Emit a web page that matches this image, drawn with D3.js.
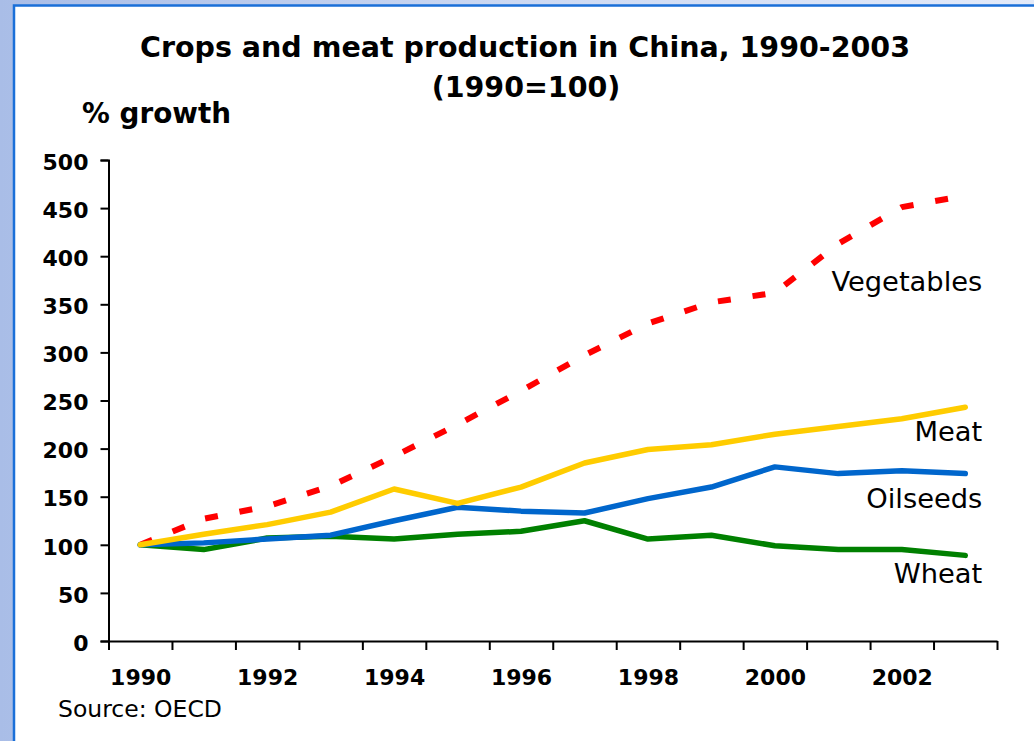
<!DOCTYPE html>
<html>
<head>
<meta charset="utf-8">
<script src="https://cdn.jsdelivr.net/npm/d3@7/dist/d3.min.js"></script>
<style>
  html, body { margin: 0; padding: 0; background: #fff; }
  svg { display: block; }
  text { fill: #000; }
</style>
</head>
<body>
<svg id="chart" width="1034" height="741"></svg>
<script>
// Production indices, 1990 = 100
const years      = [1990, 1991, 1992, 1993, 1994, 1995, 1996, 1997, 1998, 1999, 2000, 2001, 2002, 2003];
const vegetables = [100, 127, 140, 161, 192, 225, 260, 297, 330, 352, 362, 413, 451, 463];
const meat       = [100, 111, 121, 134, 158, 143, 160, 185, 199, 204, 215, 223, 231, 243];
const oilseeds   = [100, 102, 106, 110, 125, 139, 135, 133, 148, 160, 181, 174, 177, 174];
const wheat      = [100,  95, 107, 109, 106, 111, 114, 125, 106, 110,  99,  95,  95,  89];

const yTicks = [0, 50, 100, 150, 200, 250, 300, 350, 400, 450, 500];
const yearLabels = [1990, 1992, 1994, 1996, 1998, 2000, 2002];

const titleLines = ["Crops and meat production in China, 1990-2003", "(1990=100)"];
const yTitle = "% growth";
const sourceNote = "Source: OECD";

// series drawn back to front
const series = [
  { name: "Vegetables", values: vegetables, color: "#ff0000", dash: "13,22", labelDy: 95 },
  { name: "Wheat",      values: wheat,      color: "#008000", dash: null,    labelDy: 28 },
  { name: "Oilseeds",   values: oilseeds,   color: "#0066cc", dash: null,    labelDy: 34 },
  { name: "Meat",       values: meat,       color: "#ffcc00", dash: null,    labelDy: 34 }
];

const W = 1034, H = 741;
const svg = d3.select("#chart");

// frame: light blue surround with a white panel
const defs = svg.append("defs");
const grad = defs.append("linearGradient").attr("id", "surround")
  .attr("x1", "0").attr("y1", "0").attr("x2", "1").attr("y2", "0");
grad.append("stop").attr("offset", "0").attr("stop-color", "#a9bde7");
grad.append("stop").attr("offset", "0.5").attr("stop-color", "#cdd9f2");
grad.append("stop").attr("offset", "1").attr("stop-color", "#e3eaf9");
svg.append("rect").attr("width", W).attr("height", H).attr("fill", "url(#surround)");
svg.append("rect").attr("x", 14).attr("y", 6).attr("width", W - 14).attr("height", H - 6).attr("fill", "#fff");
svg.append("path").attr("d", `M14,${H} V5.5 H${W}`)
  .attr("fill", "none").attr("stroke", "#1a6fd8").attr("stroke-width", 2.5);

// scales
const x = d3.scaleLinear().domain([years[0] - 0.5, years[years.length - 1] + 0.5]).range([108.5, 997]);
const y = d3.scaleLinear().domain([0, 500]).range([641, 160]);

const boldFont = "'DejaVu Sans', Verdana, sans-serif";

// title
svg.append("text")
  .attr("x", 525).attr("y", 57)
  .attr("text-anchor", "middle")
  .style("font-family", boldFont).style("font-weight", "bold").style("font-size", "28.5px")
  .text(titleLines[0]);
svg.append("text")
  .attr("x", 526).attr("y", 97)
  .attr("text-anchor", "middle")
  .style("font-family", boldFont).style("font-weight", "bold").style("font-size", "28.5px")
  .text(titleLines[1]);

svg.append("text")
  .attr("x", 82).attr("y", 123)
  .style("font-family", boldFont).style("font-weight", "bold").style("font-size", "27.8px")
  .text(yTitle);

// y axis
const yAxis = svg.append("g")
  .attr("transform", `translate(${x.range()[0]},0)`)
  .call(d3.axisLeft(y).tickValues(yTicks).tickSize(8).tickSizeOuter(8).tickPadding(12).tickFormat(d3.format("d")));
yAxis.select(".domain").attr("stroke", "#000").attr("stroke-width", 2);
yAxis.selectAll(".tick line").attr("stroke", "#000").attr("stroke-width", 2);
yAxis.selectAll(".tick text")
  .attr("dy", "0.42em")
  .style("font-family", boldFont).style("font-weight", "bold").style("font-size", "22px").attr("fill", "#000");

// x axis: ticks on year boundaries
const edges = d3.range(years[0] - 0.5, years[years.length - 1] + 1, 1);
const xAxis = svg.append("g")
  .attr("transform", `translate(0,${y(0)})`)
  .call(d3.axisBottom(x).tickValues(edges).tickSize(9).tickSizeOuter(0).tickFormat(""));
xAxis.select(".domain").attr("stroke", "#000").attr("stroke-width", 2);
xAxis.selectAll(".tick line").attr("stroke", "#000").attr("stroke-width", 2);

// year labels centred on each year
const xLabels = svg.append("g")
  .attr("transform", `translate(0,${y(0)})`)
  .call(d3.axisBottom(x).tickValues(yearLabels).tickSize(0).tickPadding(0).tickFormat(d3.format("d")));
xLabels.select(".domain").remove();
xLabels.selectAll(".tick text")
  .attr("y", 44).attr("dy", 0)
  .style("font-family", boldFont).style("font-weight", "bold").style("font-size", "22px").attr("fill", "#000");

// lines
const line = d3.line()
  .x((d, i) => x(years[i]))
  .y(d => y(d));

const lines = svg.append("g");
series.forEach(s => {
  const p = lines.append("path")
    .datum(s.values)
    .attr("d", line)
    .attr("fill", "none")
    .attr("stroke", s.color)
    .attr("stroke-width", s.dash ? 6 : 5.5)
    .attr("stroke-linejoin", "round")
    .attr("stroke-linecap", s.dash ? "butt" : "round");
  if (s.dash) p.attr("stroke-dasharray", s.dash);
});

// series labels, right-aligned past the last point
const lastX = x(years[years.length - 1]) + 17;
series.forEach(s => {
  svg.append("text")
    .attr("x", lastX)
    .attr("y", y(s.values[s.values.length - 1]) + s.labelDy)
    .attr("text-anchor", "end")
    .style("font-family", "'DejaVu Sans', Tahoma, sans-serif").style("font-size", "27.3px")
    .text(s.name);
});

// source note
svg.append("text")
  .attr("x", 58).attr("y", 717)
  .style("font-family", "'DejaVu Sans', Tahoma, sans-serif").style("font-size", "23.5px")
  .text(sourceNote);
</script>
</body>
</html>
